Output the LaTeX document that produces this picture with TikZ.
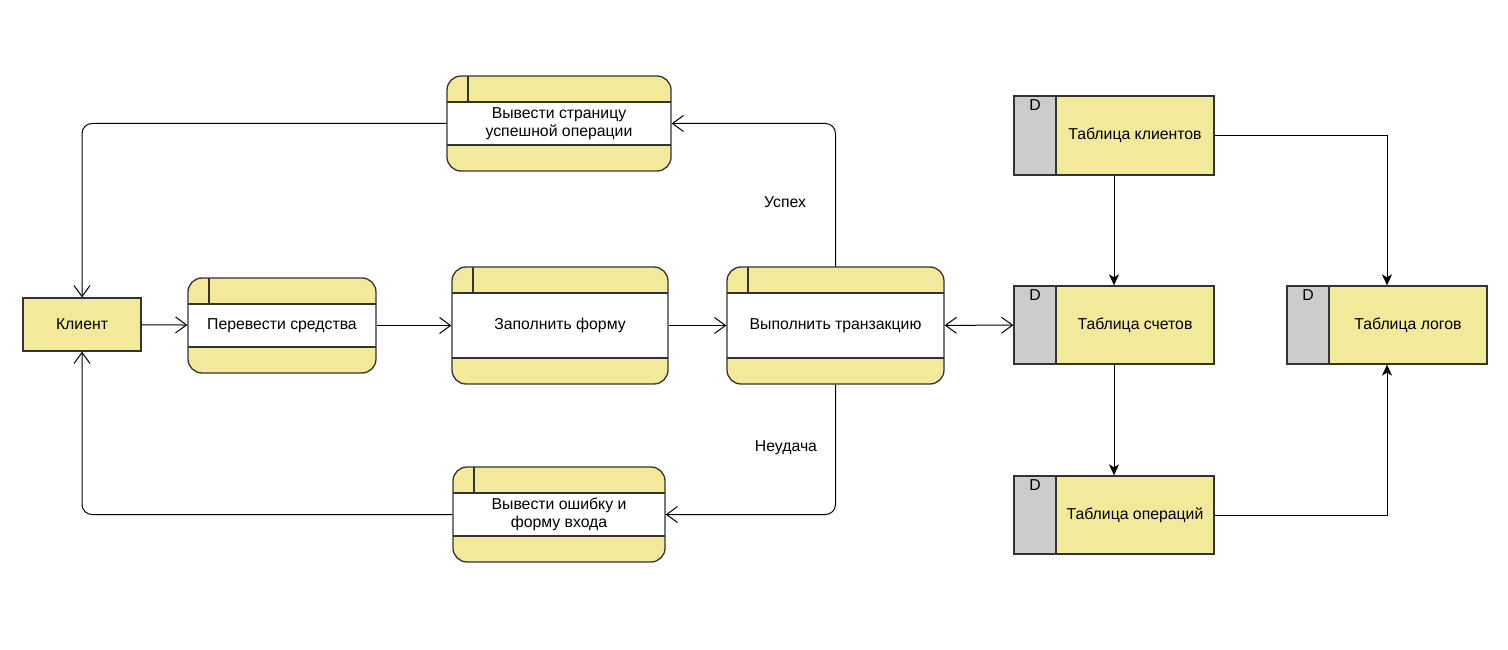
\documentclass[tikz,border=0pt]{standalone}
\usepackage{fontspec}
\setmainfont{Liberation Sans}
\usetikzlibrary{arrows.meta}
\definecolor{yel}{HTML}{F3E99B}
\definecolor{gr}{HTML}{CCCCCC}
\definecolor{bd}{HTML}{333333}
\newcommand{\fnt}{\fontsize{15.8}{18.5}\selectfont}
\tikzset{
  proc/.style={draw=bd, line width=1.3pt, fill=yel, rounded corners=14pt, inner sep=0pt, align=center, font=\fnt,
    path picture={
      \fill[white, sharp corners] ([yshift=-26pt]path picture bounding box.north west) rectangle ([yshift=26pt]path picture bounding box.south east);
      \draw[bd, line width=1.3pt, sharp corners] ([yshift=-26pt]path picture bounding box.north west) -- ([yshift=-26pt]path picture bounding box.north east);
      \draw[bd, line width=1.3pt, sharp corners] ([yshift=26pt]path picture bounding box.south west) -- ([yshift=26pt]path picture bounding box.south east);
      \draw[bd, line width=1.3pt, sharp corners] ([xshift=21pt]path picture bounding box.north west) -- ([xshift=21pt,yshift=-26pt]path picture bounding box.north west);
    }},
  ent/.style={draw=bd, line width=1.3pt, fill=yel, inner sep=0pt, font=\fnt},
  store/.style={draw=bd, line width=1.3pt, fill=yel, inner sep=0pt, minimum width=200pt, font=\fnt,
    path picture={
      \fill[gr] (path picture bounding box.north west) rectangle ([xshift=42pt]path picture bounding box.south west);
      \draw[bd, line width=1.3pt] ([xshift=42pt]path picture bounding box.north west) -- ([xshift=42pt]path picture bounding box.south west);
      \node[anchor=north, inner sep=0pt, minimum width=0pt, minimum height=0pt, draw=none, fill=none, font=\fnt] (dl) at ([xshift=21pt,yshift=-3pt]path picture bounding box.north west) {D};
    }},
  flow/.style={draw=black, line width=1pt, -{Straight Barb[length=11pt,width=16pt,line width=1pt]}},
  dflow/.style={draw=black, line width=1pt, -{Stealth[length=11pt,width=10pt,inset=3pt]}},
  lab/.style={font=\fnt, inner sep=0pt}
}
\newcommand{\st}[1]{\hspace*{42pt}\makebox[158pt]{#1}}
\begin{document}
\begin{tikzpicture}[x=1pt,y=-1pt]
\useasboundingbox (0,0) rectangle (1508,650);
\node[ent, minimum width=118pt, minimum height=53pt] (client) at (82,324.5) {Клиент};
\node[proc, minimum width=224pt, minimum height=95pt] (p1) at (559,123.5) {Вывести страницу\\успешной операции};
\node[proc, minimum width=188pt, minimum height=95pt] (p2) at (282,325.5) {Перевести средства};
\node[proc, minimum width=216pt, minimum height=117pt] (p3) at (560,325.5) {Заполнить форму};
\node[proc, minimum width=217pt, minimum height=117pt] (p4) at (835.5,325.5) {Выполнить транзакцию};
\node[proc, minimum width=212pt, minimum height=95pt] (p5) at (559,514.5) {Вывести ошибку и\\форму входа};
\node[store, minimum height=79pt] (d1) at (1114,135.5) {\st{Таблица клиентов}};
\node[store, minimum height=78pt] (d2) at (1114,325) {\st{Таблица счетов}};
\node[store, minimum height=78pt] (d3) at (1114,515) {\st{Таблица операций}};
\node[store, minimum height=78pt] (d4) at (1387,325) {\st{Таблица логов}};
\node[lab] (l1) at (785,202) {Успех};
\node[lab] (l2) at (786,448) {Неудача};
\draw[flow] (client) -- (p2);
\draw[flow] (p2) -- (p3);
\draw[flow] (p3) -- (p4);
\draw[draw=black, line width=1pt, {Straight Barb[length=11pt,width=16pt,line width=1pt]}-{Straight Barb[length=11pt,width=16pt,line width=1pt]}] (p4) -- (d2);
\draw[flow, rounded corners=10pt] (p4.north) |- (p1.east);
\draw[flow, rounded corners=10pt] (p1.west) -| (client.north);
\draw[flow, rounded corners=10pt] (p4.south) |- (p5.east);
\draw[flow, rounded corners=10pt] (p5.west) -| (client.south);
\draw[dflow] (d1) -- (d2);
\draw[dflow] (d2) -- (d3);
\draw[dflow] (d1.east) -| (d4.north);
\draw[dflow] (d3.east) -| (d4.south);
\end{tikzpicture}
\end{document}
